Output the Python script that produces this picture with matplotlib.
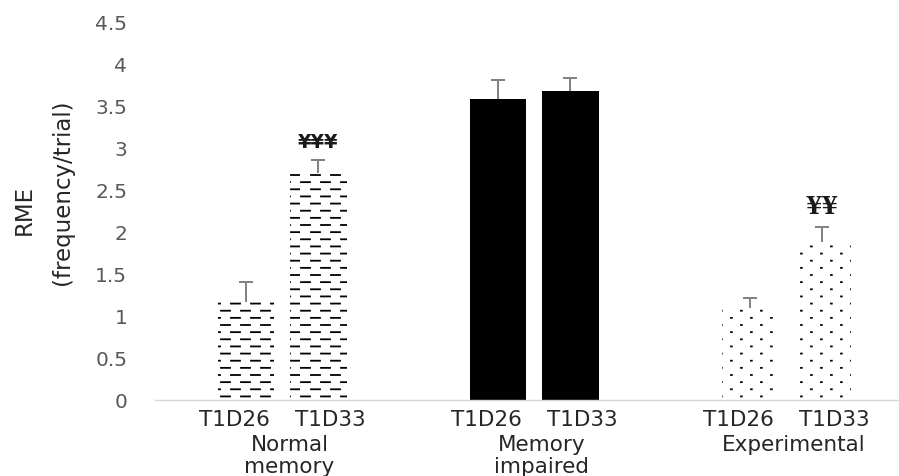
import numpy as np
import matplotlib
matplotlib.use("Agg")
import matplotlib.pyplot as plt
import matplotlib.hatch as mhatch
import matplotlib.transforms as mtransforms
from matplotlib.path import Path

# ---------------------------------------------------------------- data
groups = ["Normal\nmemory", "Memory\nimpaired", "Experimental"]
timepoints = ["T1D26", "T1D33"]
rme_t1d26 = [1.17, 3.59, 1.10]
rme_t1d33 = [2.71, 3.69, 1.89]
err_t1d26 = [0.24, 0.23, 0.12]
err_t1d33 = [0.15, 0.15, 0.17]
sig_t1d33 = ["¥¥¥", "", "¥¥"]
y_ticks = [0, 0.5, 1, 1.5, 2, 2.5, 3, 3.5, 4, 4.5]
y_tick_labels = ["0", "0.5", "1", "1.5", "2", "2.5", "3", "3.5", "4", "4.5"]


# ---------------------------------------------------------------- fill patterns
class _StaggeredPattern(mhatch.HatchPatternBase):
    """Staggered rows of short marks tiled over one hatch cell."""
    char = None
    rows = 14
    per_row = 5
    length = 0.09

    def __init__(self, hatch, density):
        on = self.char is not None and self.char in hatch
        self.num_vertices = self.rows * self.per_row * 2 if on else 0

    def set_vertices_and_codes(self, vertices, codes):
        k = 0
        for r in range(self.rows):
            y = (r + 0.5) / self.rows
            shift = 0.5 / self.per_row if r % 2 else 0.0
            for c in range(self.per_row):
                x0 = c / self.per_row + shift + 0.01
                vertices[k] = (x0, y)
                vertices[k + 1] = (x0 + self.length, y)
                codes[k] = Path.MOVETO
                codes[k + 1] = Path.LINETO
                k += 2


class DashRows(_StaggeredPattern):
    char = "="
    length = 0.09


class DotRows(_StaggeredPattern):
    char = ":"
    length = 0.008


mhatch._hatch_types.extend([DashRows, DotRows])
mhatch._validate_hatch_pattern = lambda hatch: None

plt.rcParams["font.family"] = ["DejaVu Sans"]
plt.rcParams["hatch.linewidth"] = 1.3

group_hatch = ["=", None, ":"]
group_face = ["white", "black", "white"]

# ---------------------------------------------------------------- figure
fig = plt.figure(figsize=(8.99, 4.76), dpi=100)
ax = fig.add_axes([155 / 899, 76 / 476, 744 / 899, 377 / 476])

x = np.arange(len(groups))
bar_off = 0.143
bar_w = 0.226
series = [(rme_t1d26, err_t1d26), (rme_t1d33, err_t1d33)]

for j, (vals, errs) in enumerate(series):
    pos = x + (j - 0.5) * 2 * bar_off
    bars = ax.bar(pos, vals, width=bar_w, color=group_face,
                  edgecolor="black", linewidth=0, zorder=2)
    for b, h in zip(bars, group_hatch):
        if h:
            b.set_hatch(h)
    eb = ax.errorbar(pos, vals, yerr=[np.zeros(len(vals)), errs], fmt="none",
                     ecolor="#7f7f7f", elinewidth=1.4, capsize=5,
                     capthick=1.4, zorder=3)
    eb.lines[1][0].set_visible(False)

# significance marks above T1D33 bars
mark_font = ["DejaVu Sans", None, "DejaVu Serif"]
mark_size = [14, None, 17]
pos33 = x + bar_off
for xi, v, e, m, fam, fs in zip(pos33, rme_t1d33, err_t1d33, sig_t1d33,
                                mark_font, mark_size):
    if m:
        ax.annotate(m, (xi, v + e), xytext=(0, 6), textcoords="offset points",
                    ha="center", va="bottom", fontsize=fs, fontweight="bold",
                    family=fam, color="#1a1a1a")

# axes styling
ax.set_xlim(-0.504, 2.448)
ax.set_ylim(0, 4.5)
ax.set_yticks(y_ticks)
ax.set_yticklabels(y_tick_labels)
ax.tick_params(axis="y", length=0, pad=20, labelsize=14.5, labelcolor="#595959")
for s in ["top", "right", "left"]:
    ax.spines[s].set_visible(False)
ax.spines["bottom"].set_color("#d9d9d9")
ax.spines["bottom"].set_linewidth(1.0)

# time-point labels under each bar pair, group names beneath
lab_off = 0.19
tick_pos = np.concatenate([x - lab_off, x + lab_off])
tick_lab = [timepoints[0]] * len(groups) + [timepoints[1]] * len(groups)
order = np.argsort(tick_pos)
ax.set_xticks(tick_pos[order])
ax.set_xticklabels([tick_lab[i] for i in order])
ax.tick_params(axis="x", length=0, pad=7, labelsize=15.5, labelcolor="#262626")

gtrans = mtransforms.blended_transform_factory(ax.transData, fig.transFigure)
for xi, g in zip(x, groups):
    ax.text(xi + 0.03, 1 - 435 / 476, g, transform=gtrans, ha="center",
            va="top", fontsize=15.5, color="#262626", linespacing=1.15,
            clip_on=False)

# y-axis title
fig.text(24 / 899, 1 - 210 / 476, "RME", rotation=90, ha="center",
         va="center", fontsize=16.5, color="#262626")
fig.text(62 / 899, 1 - 192 / 476, "(frequency/trial)", rotation=90,
         ha="center", va="center", fontsize=16.5, color="#262626")

fig.savefig("out.png", dpi=100)
